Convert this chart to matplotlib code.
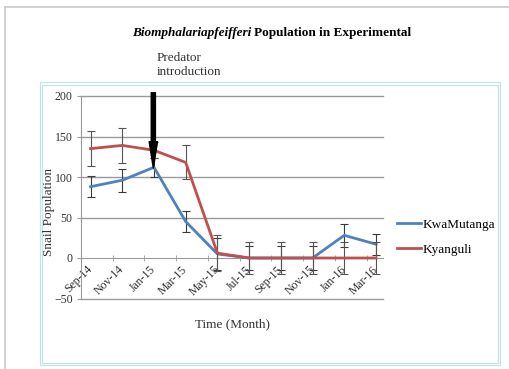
import numpy as np
import matplotlib
matplotlib.use("Agg")
from matplotlib import pyplot as plt
from matplotlib.lines import Line2D
from matplotlib.patches import Rectangle

# ------------------------------------------------------------------------------
#  Data
# ------------------------------------------------------------------------------
months = ["Sep-14", "Nov-14", "Jan-15", "Mar-15", "May-15",
          "Jul-15", "Sep-15", "Nov-15", "Jan-16", "Mar-16"]

kwamutanga = [88, 96, 112, 45, 5, 0, 0, 0, 28, 17]
kwamutanga_err = [13, 14, 12, 13, 20, 15, 15, 15, 14, 13]

kyanguli = [135, 139, 133, 118, 6, 0, 0, 0, 0, 0]
kyanguli_err = [22, 22, 10, 21, 22, 20, 20, 20, 20, 20]

y_ticks = [-50, 0, 50, 100, 150, 200]

W, H = 510, 369
BLUE = "#4F81BD"
RED = "#C0504D"
GRID = "#9a9a9a"
SERIF = ["Liberation Serif", "DejaVu Serif"]

plt.rcParams["font.family"] = SERIF

fig = plt.figure(figsize=(W / 100, H / 100), dpi=100)


def fx(px):
    return px / W


def fy(py):
    return 1 - py / H


# page border and chart-area frame
fig.add_artist(Line2D([fx(5), fx(5)], [fy(7), 0], color="#c8c8d0", lw=1.2))
fig.add_artist(Line2D([fx(5), 1], [fy(7), fy(7)], color="#c8c8d0", lw=1.2))
for d in (0, 2.5):
    fig.add_artist(Rectangle((fx(40 + d), fy(365 - d)),
                             fx(460 - 2 * d), (365 - 82 - 2 * d) / H,
                             fill=False, ec="#c6e4e8", lw=0.9))

# plot area
ax = fig.add_axes([fx(81), fy(298.5), fx(302), (298.5 - 96) / H])
x = np.arange(len(months))

ax.errorbar(x, kwamutanga, yerr=kwamutanga_err, color=BLUE, lw=2,
            ecolor="#3a3a3a", elinewidth=0.8, capsize=3, capthick=0.8,
            zorder=3)
ax.errorbar(x, kyanguli, yerr=kyanguli_err, color=RED, lw=2,
            ecolor="#555555", elinewidth=0.8, capsize=3, capthick=0.8,
            zorder=4)

ax.set_xlim(-0.3, 9.22)
ax.set_ylim(-50, 200)
ax.set_yticks(y_ticks)
for yv in y_ticks:
    if yv != 0:
        ax.axhline(yv, color=GRID, lw=1, zorder=1, clip_on=False)

for side in ("top", "right"):
    ax.spines[side].set_visible(False)
ax.spines["left"].set_color(GRID)
ax.spines["bottom"].set_color(GRID)
ax.spines["bottom"].set_position(("data", 0))

ax.set_xticks(x)
ax.set_xticklabels(months, rotation=45, ha="right", va="center",
                   rotation_mode="anchor", fontsize=8.5, color="#333333")
ax.set_xticks(np.arange(len(months)) - 0.3, minor=True)
ax.tick_params(axis="x", which="major", length=0, pad=7)
ax.tick_params(axis="x", which="minor", length=4, direction="inout",
               color=GRID)
ax.tick_params(axis="y", length=3, color=GRID, labelsize=8.5,
               labelcolor="#333333", pad=3)

fig.text(fx(49), fy(212), "Snail Population", fontsize=9.5, color="#333333",
         rotation=90, ha="center", va="center")
fig.text(fx(233), fy(324), "Time (Month)", fontsize=9.5, color="#333333",
         ha="center", va="center")

# predator arrow
ax.annotate("", xy=(1.98, 111), xytext=(1.98, 204),
            arrowprops=dict(arrowstyle="simple,head_length=1.9,head_width=0.6,"
                                       "tail_width=0.3",
                            mutation_scale=10, color="black",
                            shrinkA=0, shrinkB=0),
            annotation_clip=False, zorder=6)

fig.text(fx(157), fy(58), "Predator", fontsize=9.5, color="#333333",
         ha="left", va="center")
fig.text(fx(157), fy(72), "introduction", fontsize=9.5, color="#333333",
         ha="left", va="center")

# title
t1 = fig.text(fx(132), fy(33), "Biomphalariapfeifferi", fontsize=9.5,
              fontweight="bold", fontstyle="italic", ha="left", va="center")
fig.canvas.draw()
bb = t1.get_window_extent()
fig.text(fx(bb.x1 + 3), fy(33), "Population in Experimental", fontsize=9.5,
         fontweight="bold", ha="left", va="center")

handles = [Line2D([], [], color=BLUE, lw=2), Line2D([], [], color=RED, lw=2)]
fig.legend(handles, ["KwaMutanga", "Kyanguli"], loc="center left",
           bbox_to_anchor=(fx(392), fy(237)), frameon=False, fontsize=9.5,
           handlelength=1.8, handletextpad=0.15, labelspacing=0.95,
           borderaxespad=0)

fig.savefig("out.png", dpi=100)
